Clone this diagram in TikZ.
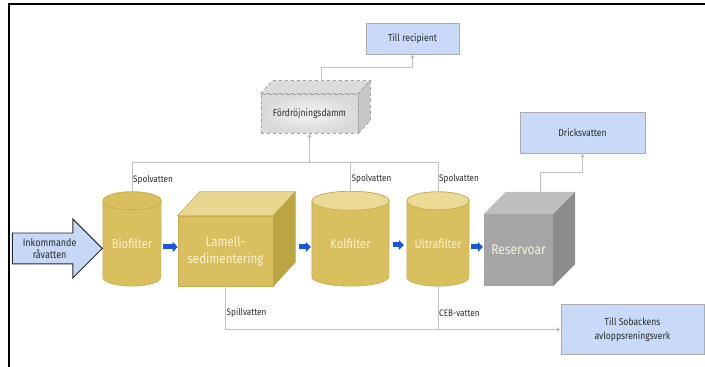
\documentclass[tikz,border=0pt]{standalone}
\usepackage{fontspec}
\setmainfont{Fira Sans}[FakeStretch=0.86]
\usetikzlibrary{arrows.meta, positioning, shapes.arrows, calc, backgrounds}

\definecolor{gold}{RGB}{217,191,94}
\definecolor{goldtop}{RGB}{235,219,151}
\definecolor{goldside}{RGB}{187,164,65}
\definecolor{goldline}{RGB}{196,170,80}
\definecolor{cream}{RGB}{248,242,214}
\definecolor{resfront}{RGB}{165,165,167}
\definecolor{restop}{RGB}{190,190,192}
\definecolor{resside}{RGB}{140,140,142}
\definecolor{boxblue}{RGB}{201,218,248}
\definecolor{inblue}{RGB}{198,216,246}
\definecolor{flowblue}{RGB}{25,85,220}
\definecolor{linkgray}{RGB}{192,192,192}
\definecolor{txt}{RGB}{43,43,43}

% cylinder body behind a tank node (node spans top ellipse centre to bottom)
\newcommand{\tankshape}[4]{%
  \filldraw[goldline, line width=0.6pt, fill=gold] (#1.north west) -- ([yshift=#3pt]#1.south west)
    arc[start angle=180, end angle=360, x radius=#2pt, y radius=#3pt]
    -- (#1.north east) arc[start angle=0, end angle=180, x radius=#2pt, y radius=#3pt] -- cycle;
  \filldraw[goldline, line width=0.6pt, fill=#4] (#1.north) ellipse[x radius=#2pt, y radius=#3pt];
}
% top and side faces of a block node
\newcommand{\blockfaces}[5]{%
  \path[#4] (#1.north west) -- ++(#2,#3) -- ($(#1.north east)+(#2,#3)$) -- (#1.north east) -- cycle;
  \path[#5] (#1.north east) -- ++(#2,#3) -- ($(#1.south east)+(#2,#3)$) -- (#1.south east) -- cycle;
}

\begin{document}
\begin{tikzpicture}[x=1pt, y=1pt,
  tank/.style={minimum width=#1, minimum height=85pt, inner sep=0pt, text=cream,
               font=\fontsize{13}{15}\selectfont},
  block/.style={minimum width=#1, inner sep=0pt, align=center, text=cream,
                font=\fontsize{13.5}{17}\selectfont},
  outbox/.style={draw=gray!65, line width=0.8pt, fill=boxblue, inner sep=0pt, align=center,
                 text=txt, font=\fontsize{10}{14}\selectfont},
  lbl/.style={inner sep=1pt, text=txt, font=\fontsize{9.5}{11}\selectfont},
  link/.style={draw=linkgray, line width=0.8pt},
  tip/.style={-{Triangle[length=4pt, width=4pt, fill=gray!70]}},
  flow/.style={flowblue, line width=5pt, -{Triangle[length=5pt, width=10pt]}}
]
  \useasboundingbox (0,0) rectangle (705,367);
  \draw[line width=1.4pt] (9,0) -- (9,363) -- (705,363);

  % process line
  \node[single arrow, draw=txt, line width=0.9pt, fill=inblue, single arrow head extend=14pt,
        minimum height=90pt, inner xsep=2pt, inner ysep=5pt, align=center, text=txt,
        font=\fontsize{10.5}{12}\selectfont, anchor=tip] (in) at (103,118.5) {Inkommande\\råvatten};
  \node[tank=58pt] (bio) at (132,123.5) {Biofilter};
  \node[block=95pt, minimum height=70pt, fill=gold, draw=goldline, line width=0.6pt] (lam) at (225.5,116) {Lamell-\\sedimentering};
  \node[tank=77pt] (kol) at (350.5,123.5) {Kolfilter};
  \node[tank=62pt, font=\fontsize{12.5}{15}\selectfont] (ultra) at (438,123.5) {Ultrafilter};
  \node[block=69pt, minimum height=72pt, fill=resfront, font=\fontsize{14}{17}\selectfont] (res) at (518.5,117) {Reservoar};

  \begin{scope}[on background layer]
    \tankshape{bio}{29}{9}{gold}
    \tankshape{kol}{38.5}{9.5}{goldtop}
    \tankshape{ultra}{31}{9}{goldtop}
  \end{scope}
  \blockfaces{lam}{22}{24}{fill=goldtop!85!gold, draw=goldline, line width=0.6pt}{fill=goldside, draw=goldline, line width=0.6pt}
  \blockfaces{res}{22}{22}{fill=restop}{fill=resside}

  % retention pond and outlets
  \node[draw=gray!75, dashed, line width=0.8pt, shading=radial, inner color=gray!8, outer color=gray!30,
        minimum width=97pt, minimum height=39pt, text=txt, font=\fontsize{10}{12}\selectfont] (fd) at (309.5,253.5) {Fördröjningsdamm};
  \blockfaces{fd}{12}{13}{fill=gray!28, draw=gray!75, dashed, line width=0.8pt}{fill=gray!45, draw=gray!75, dashed, line width=0.8pt}

  \node[outbox, minimum width=93pt, minimum height=31pt] (recip) at (412.5,328.5) {Till recipient};
  \node[outbox, minimum width=125pt, minimum height=41pt] (drick) at (582.5,234.5) {Dricksvatten};
  \node[outbox, minimum width=143pt, minimum height=50pt] (sob) at (632.5,37.5) {Till Sobackens\\avloppsreningsverk};

  % blue flow arrows
  \draw[flow] (bio.east |- 0,120) ++(2,0) -- (lam.west |- 0,120);
  \draw[flow] ($(lam.east)+(26,4)$) -- ($(kol.west)+(-1,-3.5)$);
  \draw[flow] ($(kol.east)+(4,-1.5)$) -- ($(ultra.west)+(-3,-1.5)$);
  \draw[flow] ($(ultra.east)+(2,-3.5)$) -- ($(res.west)+(-1,3)$);

  % backwash water
  \draw[link] ([yshift=9pt]bio.north) |- ($(ultra.north)+(0,38)$) -- ([yshift=9pt]ultra.north);
  \draw[link] ([yshift=9.5pt]kol.north) -- ++(0,28.5);
  \draw[link, tip] (fd.south |- 0,204) -- (fd.south);
  \draw[link, tip] ($(fd.north)+(12,13)$) -- ++(0,13) -| (recip.south);
  \draw[link, tip] ($(res.north)+(22,22)$) -- ++(0,19) -| (drick.south);
  \node[lbl, anchor=west] (spol1) at ($(bio.north)+(0,21)$) {Spolvatten};
  \node[lbl, anchor=west] (spol2) at ($(kol.north)+(0,22)$) {Spolvatten};
  \node[lbl, anchor=west] (spol3) at ($(ultra.north)+(0,22)$) {Spolvatten};

  % waste water
  \draw[link, tip] (lam.south) |- (sob.west);
  \draw[link] (ultra.south) -- (ultra.south |- sob.west);
  \node[lbl, anchor=west] (spill) at ($(lam.south)+(0,-27)$) {Spillvatten};
  \node[lbl, anchor=west] (ceb) at ($(ultra.south)+(0,-27)$) {CEB-vatten};
\end{tikzpicture}
\end{document}
